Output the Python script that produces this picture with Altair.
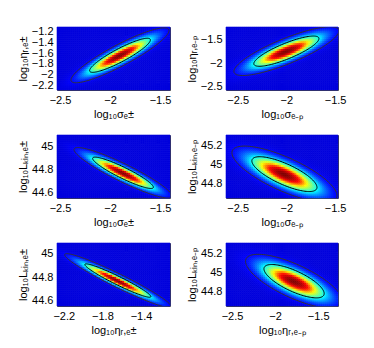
import altair as alt
import numpy as np
import pandas as pd

# ---- panel texts ----
x_titles = ["log₁₀σₑ±", "log₁₀σₑ₋ₚ", "log₁₀σₑ±", "log₁₀σₑ₋ₚ", "log₁₀ηᵣ,ₑ±", "log₁₀ηᵣ,ₑ₋ₚ"]
y_titles = ["log₁₀ηᵣ,ₑ±", "log₁₀ηᵣ,ₑ₋ₚ", "log₁₀Lₖᵢₙ,ₑ±", "log₁₀Lₖᵢₙ,ₑ₋ₚ", "log₁₀Lₖᵢₙ,ₑ±", "log₁₀Lₖᵢₙ,ₑ₋ₚ"]

# ---- axis ranges and ticks ----
x_domains = [[-2.53, -1.40], [-2.62, -1.47], [-2.53, -1.40], [-2.62, -1.47], [-2.27, -1.10], [-2.57, -1.27]]
y_domains = [[-2.29, -1.11], [-2.57, -1.24], [44.55, 45.10], [44.65, 45.31], [44.55, 45.095], [44.65, 45.31]]
x_ticks = [[-2.5, -2, -1.5], [-2.5, -2, -1.5], [-2.5, -2, -1.5], [-2.5, -2, -1.5], [-2.2, -1.8, -1.4], [-2.5, -2, -1.5]]
y_ticks = [[-2.2, -2, -1.8, -1.6, -1.4, -1.2], [-2.5, -2, -1.5], [44.6, 44.8, 45],
           [44.8, 45, 45.2], [44.6, 44.8, 45], [44.8, 45, 45.2]]

# ---- posterior shape (peak, spread, correlation) ----
centers_x = [-1.90, -2.00, -1.87, -2.02, -1.64, -1.78]
centers_y = [-1.64, -1.75, 44.77, 44.90, 44.77, 44.91]
spread_x = [0.20, 0.22, 0.20, 0.22, 0.225, 0.23]
spread_y = [0.21, 0.21, 0.09, 0.12, 0.095, 0.115]
correlations = [0.90, 0.83, -0.92, -0.76, -0.96, -0.74]
contour_names = ["inner", "outer"]
contour_sigmas = [1.52, 2.45]

jet_stops = [0, 0.05, 0.3, 0.44, 0.58, 0.8, 1.0]
jet_colors = ["#0000dd", "#0000ff", "#00ffff", "#80ff80", "#ffff00", "#ff0000", "#800000"]

NX, NY = 57, 32


def panel(i, w, h):
    x0, x1 = x_domains[i]
    y0, y1 = y_domains[i]
    xe = np.linspace(x0, x1, NX + 1)
    ye = np.linspace(y0, y1, NY + 1)
    xc = (xe[:-1] + xe[1:]) / 2
    yc = (ye[:-1] + ye[1:]) / 2
    X, Y = np.meshgrid(xc, yc)
    r = correlations[i]
    u = (X - centers_x[i]) / spread_x[i]
    v = (Y - centers_y[i]) / spread_y[i]
    q = (u * u - 2 * r * u * v + v * v) / (1 - r * r)
    d = np.exp(-0.5 * q)
    XL, YL = np.meshgrid(xe[:-1], ye[:-1])
    XR, YR = np.meshgrid(xe[1:], ye[1:])
    grid = pd.DataFrame({"x": XL.ravel(), "x2": XR.ravel(), "y": YL.ravel(), "y2": YR.ravel(), "d": d.ravel()})

    rows = []
    t = np.linspace(0, 2 * np.pi, 121)
    for name, k in zip(contour_names, contour_sigmas):
        ex = centers_x[i] + k * spread_x[i] * np.cos(t)
        ey = centers_y[i] + k * spread_y[i] * (r * np.cos(t) + np.sqrt(1 - r * r) * np.sin(t))
        for j in range(len(t)):
            rows.append({"x": ex[j], "y": ey[j], "level": name, "o": j})
    cont = pd.DataFrame(rows)

    xs = alt.Scale(domain=[x0, x1], nice=False, zero=False)
    ys = alt.Scale(domain=[y0, y1], nice=False, zero=False)
    xa = alt.Axis(values=x_ticks[i], format="~g", title=x_titles[i])
    ya = alt.Axis(values=y_ticks[i], format="~g", title=y_titles[i])
    cs = alt.Scale(domain=jet_stops, range=jet_colors, interpolate="rgb", clamp=True)

    heat = alt.Chart(grid).mark_rect(strokeWidth=0.6).encode(
        x=alt.X("x:Q", scale=xs, axis=xa),
        x2="x2:Q",
        y=alt.Y("y:Q", scale=ys, axis=ya),
        y2="y2:Q",
        fill=alt.Fill("d:Q", scale=cs, legend=None),
        stroke=alt.Stroke("d:Q", scale=cs, legend=None),
    )
    lines = alt.Chart(cont).mark_line(clip=True, strokeWidth=1).encode(
        x=alt.X("x:Q", scale=xs, axis=xa),
        y=alt.Y("y:Q", scale=ys, axis=ya),
        color=alt.Color("level:N", scale=alt.Scale(domain=contour_names, range=["#000000", "#333333"]), legend=None),
        detail="level:N",
        order="o:Q",
    )
    return alt.layer(heat, lines).properties(width=w, height=h)


panels = []
for i in range(6):
    w = 113 if i % 2 == 0 else 112
    panels.append(panel(i, w, 63))

chart = alt.concat(*panels, columns=2, spacing={"row": 14, "column": 13}).resolve_scale(
    x="independent", y="independent"
).properties(
    padding={"left": 8, "top": 17, "right": 5, "bottom": 5}
).configure_view(
    stroke="#444444", strokeWidth=1
).configure_axis(
    grid=False, domain=False, ticks=False, labelOverlap=False,
    labelFont="Liberation Sans", labelFontSize=11, labelColor="#000000", labelPadding=4,
    titleFont="Liberation Sans", titleFontSize=11, titleFontWeight="normal", titleColor="#000000", titlePadding=3,
)

chart.save("out.html", embed_options={"renderer": "svg", "actions": False})
